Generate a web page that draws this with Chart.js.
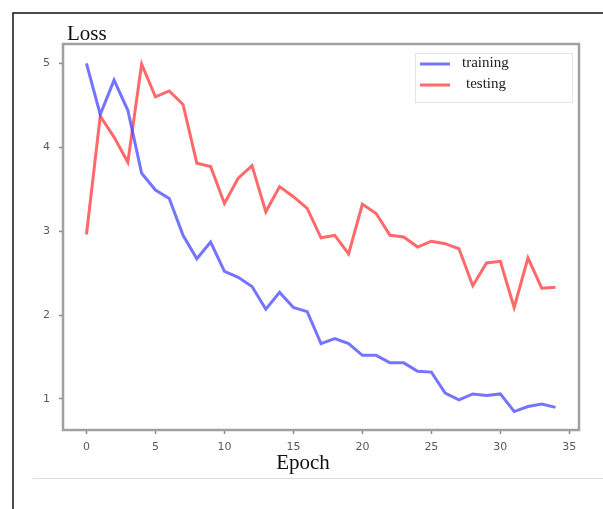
<!DOCTYPE html>
<html>
<head>
<meta charset="utf-8">
<script src="https://cdn.jsdelivr.net/npm/chart.js@4.4.1/dist/chart.umd.min.js"></script>
<style>
  html, body { margin: 0; padding: 0; background: #fff; }
  #wrap { width: 603px; height: 509px; position: relative; }
</style>
</head>
<body>
<div id="wrap"><canvas id="myChart" width="603" height="509"></canvas></div>
<script>
// epochs 0..34
var epochs = [0,1,2,3,4,5,6,7,8,9,10,11,12,13,14,15,16,17,18,19,20,21,22,23,24,25,26,27,28,29,30,31,32,33,34];
var training = [5.00,4.39,4.80,4.44,3.69,3.49,3.39,2.95,2.67,2.87,2.52,2.45,2.34,2.07,2.27,2.09,2.04,1.66,1.72,1.66,1.52,1.52,1.43,1.43,1.33,1.32,1.07,0.99,1.06,1.04,1.06,0.85,0.91,0.94,0.90];
var testing = [2.96,4.37,4.12,3.82,4.99,4.60,4.67,4.51,3.81,3.77,3.33,3.63,3.78,3.23,3.53,3.41,3.27,2.92,2.95,2.73,3.32,3.21,2.95,2.93,2.81,2.88,2.85,2.79,2.35,2.62,2.64,2.09,2.68,2.32,2.33];
var xTicks = [0,5,10,15,20,25,30,35];
var yTicks = [1,2,3,4,5];
var seriesNames = ['training', 'testing'];

var serif = '"Liberation Serif", "DejaVu Serif", serif';

// frame, titles, legend box drawn by hand
var decor = {
    id: 'decor',
    beforeDraw: function(chart){
        var c = chart.ctx;
        c.save();
        c.fillStyle = '#fff';
        c.fillRect(0, 0, chart.width, chart.height);
        // outer black border
        c.strokeStyle = '#111';
        c.lineWidth = 1.5;
        c.beginPath();
        c.moveTo(13, chart.height);
        c.lineTo(13, 13);
        c.lineTo(chart.width, 13);
        c.stroke();
        // light rule under the figure
        c.strokeStyle = '#ddd';
        c.lineWidth = 1;
        c.beginPath();
        c.moveTo(33, 478.5);
        c.lineTo(chart.width, 478.5);
        c.stroke();
        c.restore();
    },
    afterDraw: function(chart){
        var c = chart.ctx;
        var a = chart.chartArea;
        c.save();
        // gray axes box
        c.strokeStyle = '#a0a0a0';
        c.lineWidth = 2.5;
        c.strokeRect(a.left, a.top, a.right - a.left, a.bottom - a.top);
        // titles
        c.fillStyle = '#111';
        c.font = '21px ' + serif;
        c.textBaseline = 'alphabetic';
        c.textAlign = 'left';
        c.fillText('Loss', 67, 40);
        c.textAlign = 'center';
        c.fillText('Epoch', 303, 469);
        // legend
        var lx = 415, ly = 53, lw = 157, lh = 49;
        c.strokeStyle = '#e4e4e4';
        c.lineWidth = 1;
        c.strokeRect(lx + 0.5, ly + 0.5, lw, lh);
        c.font = '15px ' + serif;
        c.textAlign = 'left';
        c.textBaseline = 'middle';
        chart.data.datasets.forEach(function(ds, i){
            var y = ly + 11 + i * 21;
            c.strokeStyle = ds.borderColor;
            c.lineWidth = 3;
            c.beginPath();
            c.moveTo(lx + 5, y);
            c.lineTo(lx + 35, y);
            c.stroke();
            c.fillStyle = '#222';
            c.fillText(ds.label, lx + 47 + i * 4, y - 1);
        });
        c.restore();
    }
};

var ctx = document.getElementById('myChart').getContext('2d');
var myChart = new Chart(ctx, {
    type: 'line',
    data: {
        labels: epochs,
        datasets: [{
            label: seriesNames[0],
            data: epochs.map(function(e, i){ return {x: e, y: training[i]}; }),
            borderColor: 'rgba(70, 70, 255, 0.75)',
            borderWidth: 3,
            pointRadius: 0,
            tension: 0,
            fill: false
        },
        {
            label: seriesNames[1],
            data: epochs.map(function(e, i){ return {x: e, y: testing[i]}; }),
            borderColor: 'rgba(255, 55, 55, 0.75)',
            borderWidth: 3,
            pointRadius: 0,
            tension: 0,
            fill: false
        }]
    },
    options: {
        responsive: false,
        animation: false,
        layout: { padding: { left: 0, top: 44, right: 24, bottom: 0 } },
        plugins: {
            legend: { display: false },
            tooltip: { enabled: false }
        },
        scales: {
            x: {
                type: 'linear',
                min: -1.7,
                max: 35.7,
                afterBuildTicks: function(scale){ scale.ticks = xTicks.map(function(v){ return {value: v}; }); },
                afterFit: function(scale){ scale.height = 79; },
                grid: { drawOnChartArea: false, drawTicks: true, tickLength: 4, color: '#888', tickWidth: 1.5 },
                border: { display: false },
                ticks: { color: '#5a5a5a', padding: 7, font: { family: '"DejaVu Sans", sans-serif', size: 11 }, maxRotation: 0 }
            },
            y: {
                min: 0.63,
                max: 5.23,
                afterBuildTicks: function(scale){ scale.ticks = yTicks.map(function(v){ return {value: v}; }); },
                afterFit: function(scale){ scale.width = 63; },
                grid: { drawOnChartArea: false, drawTicks: true, tickLength: 4, color: '#888', tickWidth: 1.5 },
                border: { display: false },
                ticks: { color: '#5a5a5a', padding: 9, font: { family: '"DejaVu Sans", sans-serif', size: 11 } }
            }
        }
    },
    plugins: [decor]
});
</script>
</body>
</html>
